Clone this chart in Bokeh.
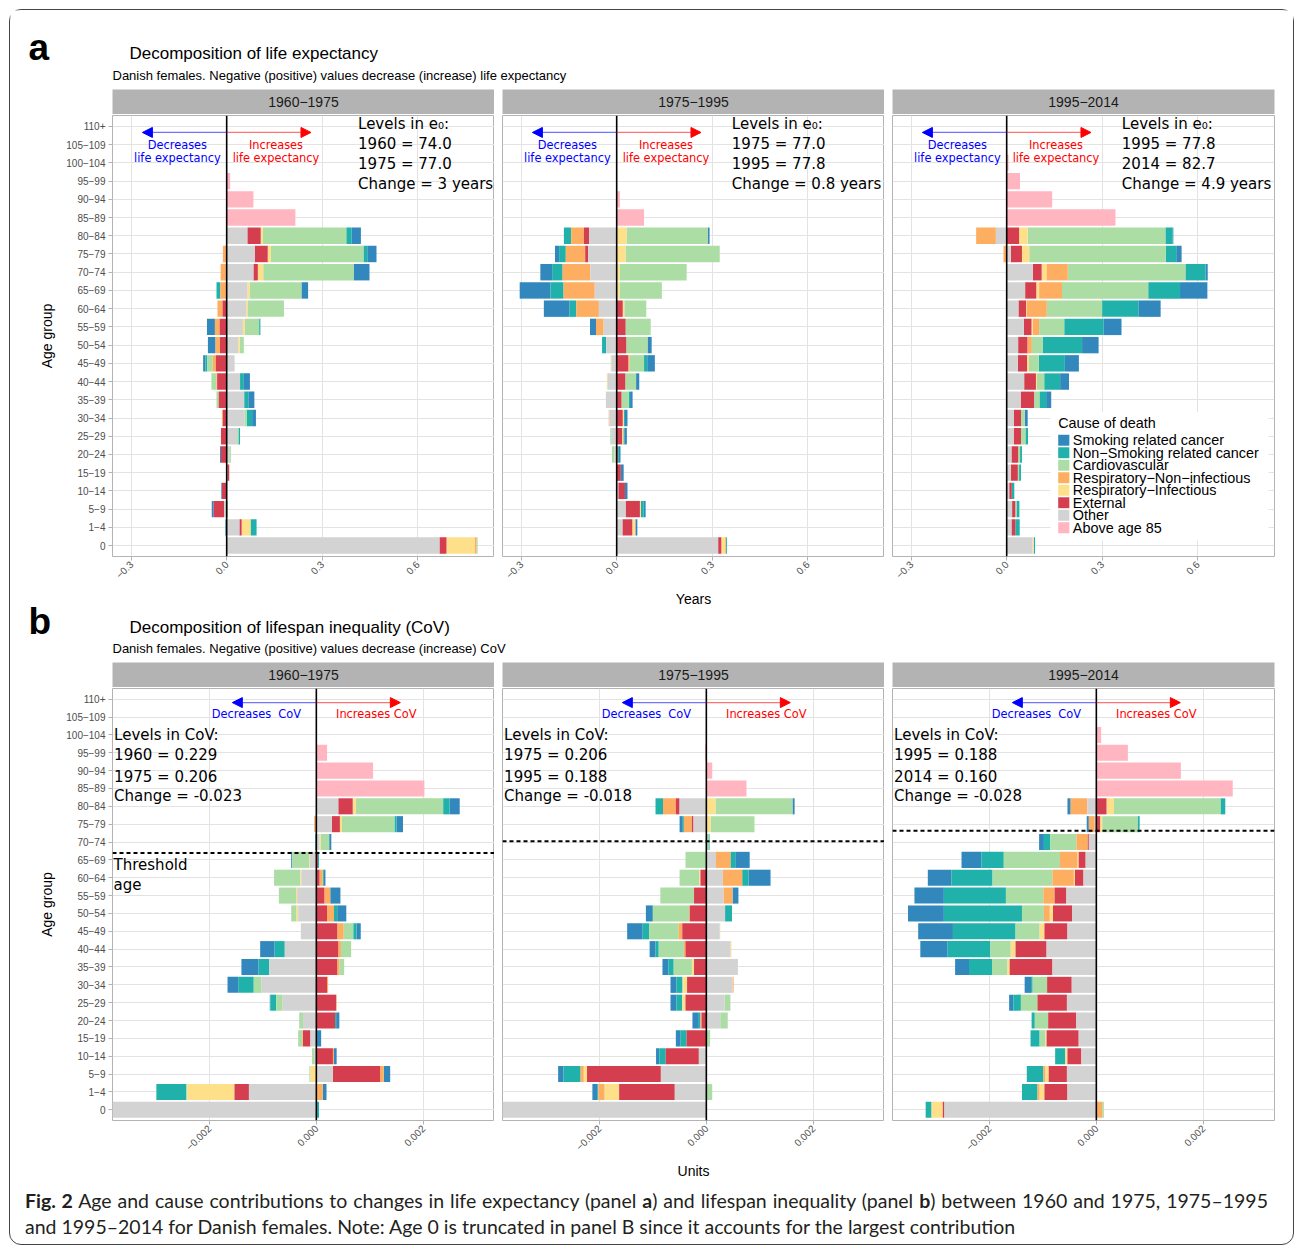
import math
from bokeh.plotting import figure
from bokeh.models import Range1d, FixedTicker, Span, Arrow, NormalHead, Div, BoxAnnotation, Label
from bokeh.layouts import column, row
from bokeh.embed import file_html
from bokeh.resources import INLINE
from bokeh.core.properties import value

THEME_FONT = "Liberation Sans"
NOTE_FONT = "DejaVu Sans"

# ---------------- categories ----------------
age_groups = ["0", "1−4", "5−9", "10−14", "15−19", "20−24", "25−29", "30−34", "35−39", "40−44",
              "45−49", "50−54", "55−59", "60−64", "65−69", "70−74", "75−79", "80−84", "85−89",
              "90−94", "95−99", "100−104", "105−109", "110+"]
periods = ["1960−1975", "1975−1995", "1995−2014"]
level_years = [1960, 1975, 1995, 2014]
e0_levels = [74.0, 77.0, 77.8, 82.7]
cov_levels = [0.229, 0.206, 0.188, 0.160]

causes = ["smoking", "nonsmoking", "cardio", "respnon", "respinf", "external", "other", "above85"]
cause_names = ["Smoking related cancer", "Non−Smoking related cancer", "Cardiovascular",
               "Respiratory−Non−infectious", "Respiratory−Infectious", "External", "Other", "Above age 85"]
cause_colors = ["#3288BD", "#20B2AA", "#ABDDA4", "#FDAE61", "#FEE08B", "#D53E4F", "#D3D3D3", "#FFB6C1"]
stack_order = ["other", "external", "respinf", "respnon", "cardio", "nonsmoking", "smoking", "above85"]

# ---------------- panel a: contributions to life expectancy (years), ages 0 .. 110+ ----------------
e0_6075_smoking    = [0, -0.004, -0.006, -0.002, 0, -0.003, 0, 0.012, 0.019, 0.019, -0.007, -0.024, -0.025, 0, 0.021, 0.050, 0.029, 0.029, 0, 0, 0, 0, 0, 0]
e0_6075_nonsmoking = [0, 0.019, 0, 0, 0, 0, 0.005, 0.017, 0.013, 0.012, -0.006, 0, 0.004, 0, -0.012, 0, 0.012, 0.017, 0, 0, 0, 0, 0, 0]
e0_6075_cardio     = [0.004, 0, 0.004, 0, 0, 0.005, 0.004, 0.007, -0.007, -0.016, -0.017, 0.013, 0.045, 0.113, 0.163, 0.284, 0.291, 0.262, 0, 0, 0, 0, 0, 0]
e0_6075_respnon    = [0.006, 0, 0, 0, 0, 0, 0, -0.003, 0, -0.002, -0.010, -0.014, -0.015, -0.016, -0.020, -0.019, -0.012, 0, 0, 0, 0, 0, 0, 0]
e0_6075_respinf    = [0.088, 0.028, 0, 0, 0, 0, 0, 0, 0, 0, 0, 0.005, 0.006, 0.005, 0.007, 0.017, 0.010, 0.007, 0, 0, 0, 0, 0, 0]
e0_6075_external   = [0.022, 0.007, -0.033, -0.015, 0.006, -0.018, -0.018, -0.012, -0.025, -0.030, -0.034, -0.021, -0.022, -0.013, 0, 0.014, 0.041, 0.042, 0, 0, 0, 0, 0, 0]
e0_6075_other      = [0.669, 0.040, -0.008, 0, 0.002, 0.008, 0.033, 0.056, 0.055, 0.042, 0.025, 0.036, 0.051, 0.062, 0.065, 0.084, 0.088, 0.065, 0, 0, 0, 0, 0, 0]
e0_6075_above85    = [0, 0, 0, 0, 0, 0, 0, 0, 0, 0, 0, 0, 0, 0, 0, 0, 0, 0, 0.216, 0.084, 0.011, 0, 0, 0]

e0_7595_smoking    = [0, 0.006, 0.006, 0.008, 0.009, 0.005, 0.008, 0.008, 0.008, 0.010, 0.024, 0.013, -0.019, -0.081, -0.097, -0.037, -0.013, 0.005, 0, 0, 0, 0, 0, 0]
e0_7595_nonsmoking = [0.003, 0, 0.009, 0, 0, 0.004, 0.003, 0.003, 0.004, 0, 0.010, -0.013, 0, -0.021, -0.041, -0.033, -0.021, -0.023, 0, 0, 0, 0, 0, 0]
e0_7595_cardio     = [0, 0, 0, 0, 0, -0.008, -0.004, 0, 0.023, 0.034, 0.046, 0.067, 0.079, 0.069, 0.133, 0.211, 0.296, 0.256, 0, 0, 0, 0, 0, 0]
e0_7595_respnon    = [0.003, 0.002, 0, 0, 0, 0, 0, -0.002, 0, 0, 0.004, 0, -0.024, -0.071, -0.098, -0.087, -0.061, -0.040, 0, 0, 0, 0, 0, 0]
e0_7595_respinf    = [0.012, 0.008, 0.003, 0, 0, 0, 0.004, 0.004, 0, -0.002, -0.002, 0, 0, 0.005, 0.009, 0.009, 0.028, 0.031, 0, 0, 0, 0, 0, 0]
e0_7595_external   = [0.010, 0.031, 0.045, 0.021, 0.013, 0.003, 0.017, 0.019, 0.015, 0.027, 0.036, 0.030, 0.028, 0.019, 0, 0, -0.009, -0.016, 0, 0, 0, 0, 0, 0]
e0_7595_other      = [0.319, 0.018, 0.028, 0.005, 0, -0.007, -0.016, -0.023, -0.034, -0.029, -0.017, -0.033, -0.041, -0.056, -0.069, -0.083, -0.090, -0.087, 0, 0, 0, 0, 0, 0]
e0_7595_above85    = [0, 0, 0, 0, 0, 0, 0, 0, 0, 0, 0, 0, 0, 0, 0, 0, 0, 0, 0.086, 0.010, 0, 0, 0, 0]

e0_9514_smoking    = [0, 0, 0, 0, 0, 0, 0, 0.009, 0.016, 0.028, 0.044, 0.052, 0.057, 0.070, 0.086, 0.007, 0.017, 0.002, 0, 0, 0, 0, 0, 0]
e0_9514_nonsmoking = [0.004, 0.014, 0.009, 0.008, 0.006, 0.006, 0.008, 0, 0.021, 0.050, 0.082, 0.124, 0.123, 0.114, 0.100, 0.063, 0.033, 0.023, 0, 0, 0, 0, 0, 0]
e0_9514_cardio     = [0, 0, 0.004, 0, 0.004, 0.006, 0.014, 0.012, 0.017, 0.023, 0.031, 0.034, 0.079, 0.174, 0.271, 0.370, 0.429, 0.433, 0, 0, 0, 0, 0, 0]
e0_9514_respnon    = [0, 0, 0, 0, 0, 0, 0, 0, 0, 0, 0, 0.014, 0.020, 0.063, 0.072, 0.067, -0.010, -0.062, 0, 0, 0, 0, 0, 0]
e0_9514_respinf    = [0.004, 0, 0, 0, 0, 0, 0, 0, 0, 0.003, 0.006, 0, 0.004, 0.002, 0.009, 0.015, 0.023, 0.027, 0, 0, 0, 0, 0, 0]
e0_9514_external   = [0, 0.012, 0.010, 0.008, 0.022, 0.021, 0.023, 0.022, 0.042, 0.037, 0.029, 0.029, 0.024, 0.024, 0.035, 0.028, 0.035, 0.039, 0, 0, 0, 0, 0, 0]
e0_9514_other      = [0.081, 0.015, 0.017, 0.008, 0.013, 0.015, 0.022, 0.023, 0.044, 0.055, 0.035, 0.036, 0.054, 0.037, 0.058, 0.082, 0.013, -0.034, 0, 0, 0, 0, 0, 0]
e0_9514_above85    = [0, 0, 0, 0, 0, 0, 0, 0, 0, 0, 0, 0, 0, 0, 0, 0, 0, 0, 0.342, 0.143, 0.042, 0.006, 0, 0]

# ---------------- panel b: contributions to CoV (units), ages 0 .. 110+ (age 0 truncated) ----------------
cov_6075_smoking    = [0, 0.00007, 0.00012, 0.00005, 0.00009, 0.00006, -0.00001, -0.00020, -0.00032, -0.00027, 0.00008, 0.00017, 0.00019, 0.00003, -0.00002, 0.00004, 0.00012, 0.00019, 0, 0, 0, 0, 0, 0]
cov_6075_nonsmoking = [0.00005, -0.00056, 0, 0, 0, 0.00002, -0.00011, -0.00029, -0.00020, -0.00019, 0.00006, 0.00006, 0, 0.00002, 0.00002, -0.00002, 0.00004, 0.00012, 0, 0, 0, 0, 0, 0]
cov_6075_cardio     = [0, -0.00002, -0.00002, -0.00005, -0.00008, -0.00007, -0.00012, -0.00014, 0.00009, 0.00019, 0.00018, -0.00010, -0.00032, -0.00049, -0.00032, 0.00016, 0.00098, 0.00163, 0, 0, 0, 0, 0, 0]
cov_6075_respnon    = [0, 0.00012, 0.00007, 0.00002, -0.00001, 0, 0.00001, 0.00002, 0.00004, 0.00005, 0.00012, 0.00013, 0.00011, 0.00006, 0, 0, -0.00004, 0, 0, 0, 0, 0, 0, 0]
cov_6075_respinf    = [0, -0.00088, -0.00011, 0, 0, 0, 0, 0, 0, 0, 0, -0.00003, -0.00002, -0.00002, -0.00001, 0.00002, 0.00004, 0.00006, 0, 0, 0, 0, 0, 0]
cov_6075_external   = [0, -0.00027, 0.00088, 0.00031, -0.00014, 0.00035, 0.00037, 0.00020, 0.00039, 0.00041, 0.00039, 0.00020, 0.00015, 0.00006, 0.00003, 0, 0.00015, 0.00027, 0, 0, 0, 0, 0, 0]
cov_6075_other      = [-0.0065, -0.00126, 0.00031, -0.00003, -0.00011, -0.00025, -0.00063, -0.00103, -0.00088, -0.00059, -0.00029, -0.00034, -0.00036, -0.00028, -0.00012, 0.00006, 0.00029, 0.00041, 0, 0, 0, 0, 0, 0]
cov_6075_above85    = [0, 0, 0, 0, 0, 0, 0, 0, 0, 0, 0, 0, 0, 0, 0, 0, 0, 0, 0.00202, 0.00106, 0.00020, 0, 0, 0]

cov_7595_smoking    = [0, -0.00009, -0.00010, -0.00006, -0.00009, -0.00012, -0.00011, -0.00011, -0.00011, -0.00011, -0.00029, -0.00013, 0.00011, 0.00041, 0.00027, 0, -0.00006, 0.00004, 0, 0, 0, 0, 0, 0]
cov_7595_nonsmoking = [0, -0.00002, -0.00032, -0.00012, -0.00011, -0.00003, -0.00011, -0.00011, -0.00010, -0.00006, -0.00012, 0.00013, 0, 0.00012, 0.00009, 0.00002, -0.00002, -0.00014, 0, 0, 0, 0, 0, 0]
cov_7595_cardio     = [0, 0.00011, 0, 0, 0.00007, 0.00014, 0.00011, -0.00002, -0.00034, -0.00047, -0.00055, -0.00068, -0.00063, -0.00037, -0.00039, 0.00004, 0.00082, 0.00144, 0, 0, 0, 0, 0, 0]
cov_7595_respnon    = [0, -0.00012, -0.00006, 0, 0, -0.00002, 0, 0.00002, 0, -0.00003, -0.00007, -0.00001, 0.00017, 0.00036, 0.00027, 0, -0.00015, -0.00024, 0, 0, 0, 0, 0, 0]
cov_7595_respinf    = [0, -0.00027, -0.00006, 0, 0, 0, -0.00006, -0.00007, -0.00004, 0.00002, 0.00001, 0, 0, -0.00002, 0, 0, 0.00008, 0.00017, 0, 0, 0, 0, 0, 0]
cov_7595_external   = [0, -0.00104, -0.00138, -0.00062, -0.00037, -0.00009, -0.00039, -0.00036, -0.00023, -0.00039, -0.00045, -0.00031, -0.00023, -0.00011, 0, 0, -0.00003, -0.00007, 0, 0, 0, 0, 0, 0]
cov_7595_other      = [-0.0065, -0.00059, -0.00085, -0.00014, 0, 0.00026, 0.00034, 0.00049, 0.00059, 0.00045, 0.00025, 0.00035, 0.00032, 0.00031, 0.00018, 0, -0.00024, -0.00050, 0, 0, 0, 0, 0, 0]
cov_7595_above85    = [0, 0, 0, 0, 0, 0, 0, 0, 0, 0, 0, 0, 0, 0, 0, 0, 0, 0, 0.00075, 0.00011, -0.00002, 0, 0, 0]

cov_9514_smoking    = [0, 0, 0, 0, 0, 0, -0.00008, -0.00012, -0.00026, -0.00051, -0.00065, -0.00067, -0.00055, -0.00044, -0.00037, -0.00009, -0.00004, -0.00006, 0, 0, 0, 0, 0, 0]
cov_9514_nonsmoking = [-0.00011, -0.00029, -0.00031, -0.00019, -0.00017, -0.00006, -0.00014, -0.00003, -0.00043, -0.00080, -0.00117, -0.00146, -0.00116, -0.00077, -0.00042, -0.00012, 0.00004, 0.00009, 0, 0, 0, 0, 0, 0]
cov_9514_cardio     = [0.00003, 0, 0, 0, -0.00011, -0.00025, -0.00031, -0.00027, -0.00029, -0.00038, -0.00045, -0.00041, -0.00070, -0.00112, -0.00105, -0.00049, 0.00066, 0.00199, 0, 0, 0, 0, 0, 0]
cov_9514_respnon    = [0.00011, -0.00004, -0.00004, 0, 0, 0, 0, 0, 0, 0, 0, -0.00011, -0.00021, -0.00040, -0.00033, -0.00021, -0.00011, -0.00031, 0, 0, 0, 0, 0, 0]
cov_9514_respinf    = [-0.00021, -0.00009, -0.00006, -0.00004, -0.00002, 0, 0, 0, -0.00004, -0.00009, -0.00009, -0.00006, 0, -0.00002, -0.00002, 0, 0.00004, 0.00014, 0, 0, 0, 0, 0, 0]
cov_9514_external   = [-0.00003, -0.00043, -0.00034, -0.00026, -0.00060, -0.00052, -0.00055, -0.00046, -0.00080, -0.00058, -0.00043, -0.00036, -0.00022, -0.00016, -0.00013, -0.00002, 0.00007, 0.00019, 0, 0, 0, 0, 0, 0]
cov_9514_other      = [-0.00284, -0.00054, -0.00055, -0.00028, -0.00033, -0.00038, -0.00055, -0.00046, -0.00082, -0.00093, -0.00054, -0.00045, -0.00056, -0.00024, -0.00020, -0.00014, -0.00003, -0.00017, 0, 0, 0, 0, 0, 0]
cov_9514_above85    = [0, 0, 0, 0, 0, 0, 0, 0, 0, 0, 0, 0, 0, 0, 0, 0, 0, 0, 0.00255, 0.00158, 0.00059, 0.00009, 0, 0]

# threshold age position (on the age-group axis) for panel b
cov_threshold_pos = [14.38, 15.04, 15.63]


def facet_table(smoking, nonsmoking, cardio, respnon, respinf, external, other, above85):
    return dict(smoking=smoking, nonsmoking=nonsmoking, cardio=cardio, respnon=respnon,
                respinf=respinf, external=external, other=other, above85=above85)


e0_facets = [
    facet_table(e0_6075_smoking, e0_6075_nonsmoking, e0_6075_cardio, e0_6075_respnon, e0_6075_respinf, e0_6075_external, e0_6075_other, e0_6075_above85),
    facet_table(e0_7595_smoking, e0_7595_nonsmoking, e0_7595_cardio, e0_7595_respnon, e0_7595_respinf, e0_7595_external, e0_7595_other, e0_7595_above85),
    facet_table(e0_9514_smoking, e0_9514_nonsmoking, e0_9514_cardio, e0_9514_respnon, e0_9514_respinf, e0_9514_external, e0_9514_other, e0_9514_above85),
]
cov_facets = [
    facet_table(cov_6075_smoking, cov_6075_nonsmoking, cov_6075_cardio, cov_6075_respnon, cov_6075_respinf, cov_6075_external, cov_6075_other, cov_6075_above85),
    facet_table(cov_7595_smoking, cov_7595_nonsmoking, cov_7595_cardio, cov_7595_respnon, cov_7595_respinf, cov_7595_external, cov_7595_other, cov_7595_above85),
    facet_table(cov_9514_smoking, cov_9514_nonsmoking, cov_9514_cardio, cov_9514_respnon, cov_9514_respinf, cov_9514_external, cov_9514_other, cov_9514_above85),
]


def stack(facet):
    n = len(age_groups)
    pos = [0.0] * n
    neg = [0.0] * n
    out = {}
    for c in stack_order:
        ys, lefts, rights = [], [], []
        for i, v in enumerate(facet[c]):
            if v == 0:
                continue
            if v > 0:
                lefts.append(pos[i]); rights.append(pos[i] + v); pos[i] += v
            else:
                rights.append(neg[i]); lefts.append(neg[i] + v); neg[i] += v
            ys.append(i)
        out[c] = dict(y=ys, left=lefts, right=rights)
    return out


PANELS = {
    "a": dict(xr=(-0.359, 0.842), ticks=[-0.3, 0.0, 0.3, 0.6], tick_labels=["−0.3", "0.0", "0.3", "0.6"],
              height=476, bottom=34,
              arrow_y=22.67, arrow_len=0.265, note_x=0.155, note_y=[21.96, 21.26],
              dec=["Decreases", "life expectancy"], inc=["Increases", "life expectancy"],
              lev_x=[0.413, 0.362, 0.362], lev_y=[23.15, 22.05, 20.92, 19.82]),
    "b": dict(xr=(-0.00381, 0.00333), ticks=[-0.002, 0.0, 0.002], tick_labels=["−0.002", "0.000", "0.002"],
              height=473, bottom=40,
              arrow_y=22.81, arrow_len=0.00157, note_x=0.00112, note_y=[22.18],
              dec=["Decreases\u00a0 CoV"], inc=["Increases CoV"],
              lev_x=[-0.00378, -0.00378, -0.00378], lev_y=[20.98, 19.86, 18.64, 17.56]),
}
# legend placement inside panel a, 1995-2014 (in that panel's data coordinates)
LEGEND_BOX = dict(left=0.1377, right=0.823, bottom=0.28, top=7.32)
LEGEND_TITLE_POS = (0.162, 6.70)
LEGEND_KEY_X = (0.162, 0.197)
LEGEND_TEXT_X = 0.208
LEGEND_FIRST_Y = 5.78
LEGEND_STEP = 0.686
LEGEND_KEY_HALF = 0.30

WIDTHS = [484, 390, 409]
LEFT_BORDERS = [102, 8, 8]
RIGHT_BORDERS = [0, 0, 19]
TOTAL_W = sum(WIDTHS)


def level_lines(kind, k):
    y0, y1 = level_years[k], level_years[k + 1]
    if kind == "a":
        l0, l1 = e0_levels[k], e0_levels[k + 1]
        chg = round(l1 - l0, 1)
        return ["Levels in e₀:", f"{y0} = {l0:.1f}", f"{y1} = {l1:.1f}", f"Change = {chg:g} years"]
    l0, l1 = cov_levels[k], cov_levels[k + 1]
    chg = round(l1 - l0, 3)
    return ["Levels in CoV:", f"{y0} = {l0:.3f}", f"{y1} = {l1:.3f}", f"Change = {chg:.3f}"]


def add_legend(p):
    p.add_layout(BoxAnnotation(fill_color="white", fill_alpha=1, line_color=None, **LEGEND_BOX))
    p.add_layout(Label(x=LEGEND_TITLE_POS[0], y=LEGEND_TITLE_POS[1], text="Cause of death",
                       text_font=THEME_FONT, text_font_size="14.4px", text_color="black",
                       text_baseline="middle", text_align="left"))
    for j, (name, col) in enumerate(zip(cause_names, cause_colors)):
        yc = LEGEND_FIRST_Y - j * LEGEND_STEP
        p.add_layout(BoxAnnotation(left=LEGEND_KEY_X[0], right=LEGEND_KEY_X[1],
                                   bottom=yc - LEGEND_KEY_HALF, top=yc + LEGEND_KEY_HALF,
                                   fill_color=col, fill_alpha=1, line_color=None))
        p.add_layout(Label(x=LEGEND_TEXT_X, y=yc, text=name, text_font=THEME_FONT,
                           text_font_size="14.4px", text_color="black",
                           text_baseline="middle", text_align="left"))


def facet_fig(kind, k, facet):
    cfg = PANELS[kind]
    first, last = k == 0, k == 2
    p = figure(width=WIDTHS[k], height=cfg["height"], x_range=Range1d(*cfg["xr"]),
               y_range=Range1d(-0.6, len(age_groups) - 0.4),
               output_backend="svg", toolbar_location=None,
               min_border_left=LEFT_BORDERS[k], min_border_right=RIGHT_BORDERS[k],
               min_border_top=1, min_border_bottom=cfg["bottom"])
    p.outline_line_color = "#B3B3B3"
    p.outline_line_width = 1
    p.border_fill_color = "white"
    xt = FixedTicker(ticks=cfg["ticks"])
    yt = FixedTicker(ticks=list(range(len(age_groups))))
    p.xaxis.ticker = xt
    p.xgrid.ticker = xt
    p.yaxis.ticker = yt
    p.ygrid.ticker = yt
    p.xaxis.major_label_overrides = {t: l for t, l in zip(cfg["ticks"], cfg["tick_labels"])}
    p.yaxis.major_label_overrides = {i: g for i, g in enumerate(age_groups)}
    for g in (p.xgrid, p.ygrid):
        g.grid_line_color = "#E3E3E3"
        g.grid_line_width = 1
    for ax in (p.xaxis, p.yaxis):
        ax.axis_line_color = None
        ax.major_tick_line_color = "#B3B3B3"
        ax.major_tick_out = 4
        ax.major_tick_in = 0
        ax.minor_tick_out = 0
        ax.minor_tick_in = 0
        ax.major_label_text_font = THEME_FONT
        ax.major_label_text_font_size = "10px"
        ax.major_label_text_color = "#4D4D4D"
    p.xaxis.major_label_orientation = math.pi / 4
    p.xaxis.major_label_standoff = 2
    if first:
        p.yaxis.major_label_standoff = 3
        p.yaxis.axis_label = "Age group"
        p.yaxis.axis_label_text_font = THEME_FONT
        p.yaxis.axis_label_text_font_size = "14px"
        p.yaxis.axis_label_text_font_style = "normal"
        p.yaxis.axis_label_text_color = "black"
        p.yaxis.axis_label_standoff = 8
    else:
        p.yaxis.visible = False

    st = stack(facet)
    for c, col in zip(causes, cause_colors):
        d = st[c]
        p.hbar(y=d["y"], left=d["left"], right=d["right"], height=0.9,
               fill_color=col, line_color=None)

    p.add_layout(Span(location=0, dimension="height", line_color="black", line_width=1.6))

    # direction arrows and notes
    ay, al = cfg["arrow_y"], cfg["arrow_len"]
    p.add_layout(Arrow(end=NormalHead(size=10, fill_color="blue", line_color="blue"),
                       x_start=0, y_start=ay, x_end=-al, y_end=ay,
                       line_color="blue", line_alpha=0.55, line_width=1.3))
    p.add_layout(Arrow(end=NormalHead(size=10, fill_color="red", line_color="red"),
                       x_start=0, y_start=ay, x_end=al, y_end=ay,
                       line_color="red", line_alpha=0.55, line_width=1.3))
    nx = cfg["note_x"]
    p.text(x=[-nx] * len(cfg["dec"]), y=cfg["note_y"], text=cfg["dec"], text_color="blue",
           text_font=value(NOTE_FONT), text_font_size="11.4px", text_align="center", text_baseline="middle")
    p.text(x=[nx] * len(cfg["inc"]), y=cfg["note_y"], text=cfg["inc"], text_color="red",
           text_font=value(NOTE_FONT), text_font_size="11.4px", text_align="center", text_baseline="middle")

    # level texts
    p.text(x=[cfg["lev_x"][k]] * 4, y=cfg["lev_y"], text=level_lines(kind, k), text_color="black",
           text_font=value(NOTE_FONT), text_font_size="15px", text_align="left", text_baseline="middle")

    if kind == "b":
        p.add_layout(Span(location=cov_threshold_pos[k], dimension="width", line_color="black",
                          line_width=2, line_dash="4 3"))
        if first:
            p.text(x=[-0.00379, -0.00379], y=[13.69, 12.57], text=["Threshold", "age"], text_color="black",
                   text_font=value(NOTE_FONT), text_font_size="15px", text_align="left", text_baseline="middle")

    if kind == "a" and last:
        add_legend(p)
    return p


def strip_fig(k, label):
    p = figure(width=WIDTHS[k], height=25, x_range=Range1d(0, 1), y_range=Range1d(0, 1),
               output_backend="svg", toolbar_location=None, x_axis_location=None, y_axis_location=None,
               min_border_left=LEFT_BORDERS[k], min_border_right=RIGHT_BORDERS[k],
               min_border_top=0, min_border_bottom=0)
    p.grid.visible = False
    p.outline_line_color = None
    p.background_fill_color = "#B3B3B3"
    p.border_fill_color = "white"
    p.text(x=[0.5], y=[0.5], text=[label], text_font=value(THEME_FONT), text_font_size="14px",
           text_color="#1A1A1A", text_align="center", text_baseline="middle")
    return p


def blank_fig(w, h):
    p = figure(width=w, height=h, x_range=Range1d(0, w), y_range=Range1d(h, 0),
               output_backend="svg", toolbar_location=None, x_axis_location=None, y_axis_location=None,
               min_border=0)
    p.grid.visible = False
    p.outline_line_color = None
    return p


def header_fig(h, letter, title, subtitle, y_letter, y_title, y_sub, axis_title=None):
    p = blank_fig(TOTAL_W, h)
    p.text(x=[18], y=[y_letter], text=[letter], text_font=value(THEME_FONT), text_font_size="37px",
           text_font_style="bold", text_color="black", text_baseline="middle")
    p.text(x=[119], y=[y_title], text=[title], text_font=value(THEME_FONT), text_font_size="17px",
           text_color="black", text_baseline="middle")
    p.text(x=[102], y=[y_sub], text=[subtitle], text_font=value(THEME_FONT), text_font_size="13px",
           text_color="black", text_baseline="middle")
    if axis_title:
        p.text(x=[683], y=[8], text=[axis_title], text_font=value(THEME_FONT), text_font_size="14px",
               text_color="black", text_align="center", text_baseline="middle")
    return p


header_a = header_fig(79, "a", "Decomposition of life expectancy",
                      "Danish females. Negative (positive) values decrease (increase) life expectancy",
                      37, 43, 65)
header_b = header_fig(72, "b", "Decomposition of lifespan inequality (CoV)",
                      "Danish females. Negative (positive) values decrease (increase) CoV",
                      31, 37, 58, axis_title="Years")

units_fig = blank_fig(TOTAL_W, 22)
units_fig.text(x=[683], y=[10], text=["Units"], text_font=value(THEME_FONT), text_font_size="14px",
               text_color="black", text_align="center", text_baseline="middle")

caption_html = (
    '<div style="width:1243px;font-family:Lato,\'Open Sans\',sans-serif;font-size:19.5px;line-height:26px;'
    'color:#231f20;padding-top:6px;">'
    '<div style="display:block;width:1243px;text-align:justify;text-align-last:justify;">'
    '<b>Fig. 2</b> Age and cause contributions to changes in life expectancy (panel <b>a</b>) and lifespan '
    'inequality (panel <b>b</b>) between 1960 and 1975, 1975–1995</div>'
    '<div style="display:block;">and 1995–2014 for Danish females. Note: Age 0 is truncated in panel B since it accounts for the '
    'largest contribution</div></div>'
)
caption = Div(text=caption_html, width=1243, height=62, margin=(0, 0, 0, 15))

strips_a = row(*[strip_fig(k, periods[k]) for k in range(3)])
figs_a = row(*[facet_fig("a", k, e0_facets[k]) for k in range(3)])
strips_b = row(*[strip_fig(k, periods[k]) for k in range(3)])
figs_b = row(*[facet_fig("b", k, cov_facets[k]) for k in range(3)])

page = column(header_a, strips_a, figs_a, header_b, strips_b, figs_b, units_fig, caption,
              margin=(9, 0, 0, 9),
              styles={"border": "1px solid #444444", "border-radius": "12px"})

open("out.html", "w").write(file_html(page, INLINE, title="Decomposition of life expectancy and lifespan inequality"))
